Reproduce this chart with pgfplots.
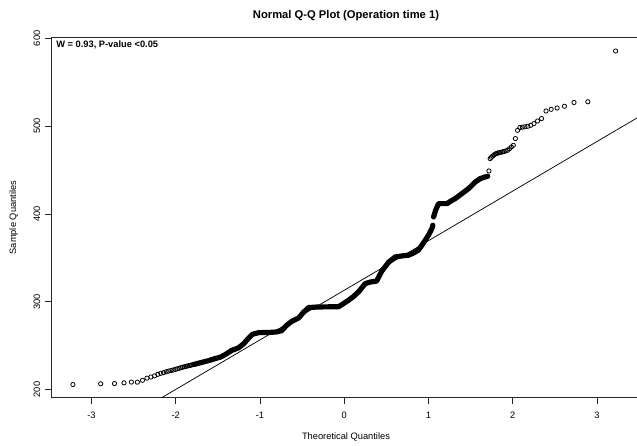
\documentclass[border=0pt]{standalone}
\usepackage{pgfplots}
\pgfplotsset{compat=1.18}
\usepackage{pgfplotstable}
\usepackage{fontspec}
\setmainfont{Liberation Sans}

\pgfplotstableread{
x y
-3.220 205.7
-2.890 206.6
-2.726 206.8
-2.613 207.6
-2.526 208.5
-2.455 208.4
-2.394 210.5
-2.341 213.0
-2.294 214.3
-2.251 215.6
-2.213 217.3
-2.177 218.5
-2.144 219.2
-2.113 220.3
-2.084 221.0
-2.057 221.6
-2.031 222.3
-2.006 222.9
-1.983 223.6
-1.960 224.2
-1.938 224.9
-1.918 225.4
-1.898 225.9
-1.879 226.4
-1.860 226.8
-1.842 227.2
-1.825 227.6
-1.809 228.0
-1.793 228.4
-1.777 228.8
}\lowtail

\pgfplotstableread{
x y
-1.776 228.8
-1.697 230.8
-1.614 232.8
-1.531 235.3
-1.468 237.0
-1.409 240.0
-1.338 244.5
-1.255 247.5
-1.195 252.0
-1.136 258.5
-1.088 263.0
-1.017 264.8
-0.898 265.0
-0.815 265.5
-0.744 267.0
-0.685 273.0
-0.626 277.5
-0.542 281.5
-0.483 288.0
-0.423 293.4
-0.304 294.1
-0.068 294.3
-0.008 298.0
0.051 301.7
0.110 306.0
0.169 311.2
0.249 320.7
0.312 322.5
0.383 323.5
0.446 335.0
0.526 345.0
0.605 351.0
0.704 352.5
0.763 353.0
0.822 355.5
0.882 359.0
0.961 370.0
1.000 376.0
1.040 383.4
1.051 387.2
}\bandA

\pgfplotstableread{
x y
1.060 396.6
1.083 404.0
1.119 411.8
1.218 411.8
1.261 414.5
1.317 417.5
1.396 423.2
1.475 428.9
1.555 436.4
1.614 440.3
1.695 442.9
}\bandB

\pgfplotstableread{
x y
1.703 443.0
1.717 449.0
1.731 463.1
1.746 464.5
1.761 466.0
1.777 467.3
1.793 468.3
1.809 469.0
1.825 469.5
1.842 470.0
1.860 470.3
1.879 470.7
1.898 471.2
1.918 471.8
1.938 472.6
1.960 474.3
1.983 476.3
2.006 478.2
2.031 485.9
2.057 495.3
2.084 498.4
2.113 498.9
2.144 499.3
2.177 499.9
2.213 501.0
2.251 503.0
2.294 505.9
2.341 508.7
2.394 517.3
2.455 519.2
2.526 520.7
2.613 522.7
2.726 527.0
2.890 527.8
3.220 585.6
}\uptail

\begin{document}
\begin{tikzpicture}[x=0.75pt,y=0.75pt]
\begin{axis}[
  at={(60.7,54.8)}, anchor=south west,
  scale only axis, width=439.65pt, height=270.15pt,
  xmin=-3.478, xmax=3.478, ymin=190.5, ymax=600.8,
  xtick={-3,-2,-1,0,1,2,3}, xticklabels={-3,-2,-1,0,1,2,3},
  ytick={200,300,400,500,600}, yticklabels={200,300,400,500,600},
  tick align=outside, tick pos=left, major tick length=4.3pt,
  axis line style={line width=0.7pt, black!85},
  every tick/.style={black!85, line width=0.6pt},
  tick label style={font=\fontsize{6.98}{8}\selectfont},
  xticklabel shift=3pt, yticklabel shift=0.4pt,
  yticklabel style={rotate=90, anchor=south},
]
\addplot[black, line width=0.55pt] coordinates {(-3.478,116.6) (3.478,509.6)};
\addplot[black, line width=3.9pt, line join=round, line cap=round] table[x=x,y=y] {\bandA};
\addplot[black, line width=3.9pt, line join=round, line cap=round] table[x=x,y=y] {\bandB};
\addplot[only marks, mark=o, mark size=1.6pt, mark options={line width=0.6pt, black}] table[x=x,y=y] {\lowtail};
\addplot[only marks, mark=o, mark size=1.6pt, mark options={line width=0.6pt, black}] table[x=x,y=y] {\uptail};
\end{axis}
\node[font=\bfseries\fontsize{8.4}{10}\selectfont] at (346,430) {Normal Q-Q Plot (Operation time 1)};
\node[font=\fontsize{6.98}{8}\selectfont] at (346,9) {Theoretical Quantiles};
\node[font=\fontsize{6.98}{8}\selectfont, rotate=90] at (13.7,228.4) {Sample Quantiles};
\node[font=\bfseries\fontsize{6.98}{8}\selectfont, anchor=west, inner sep=0pt] at (56,401.5) {W = 0.93, P-value <0.05};
\pgfresetboundingbox
\useasboundingbox (0,0) rectangle (637,446);
\end{tikzpicture}
\end{document}
